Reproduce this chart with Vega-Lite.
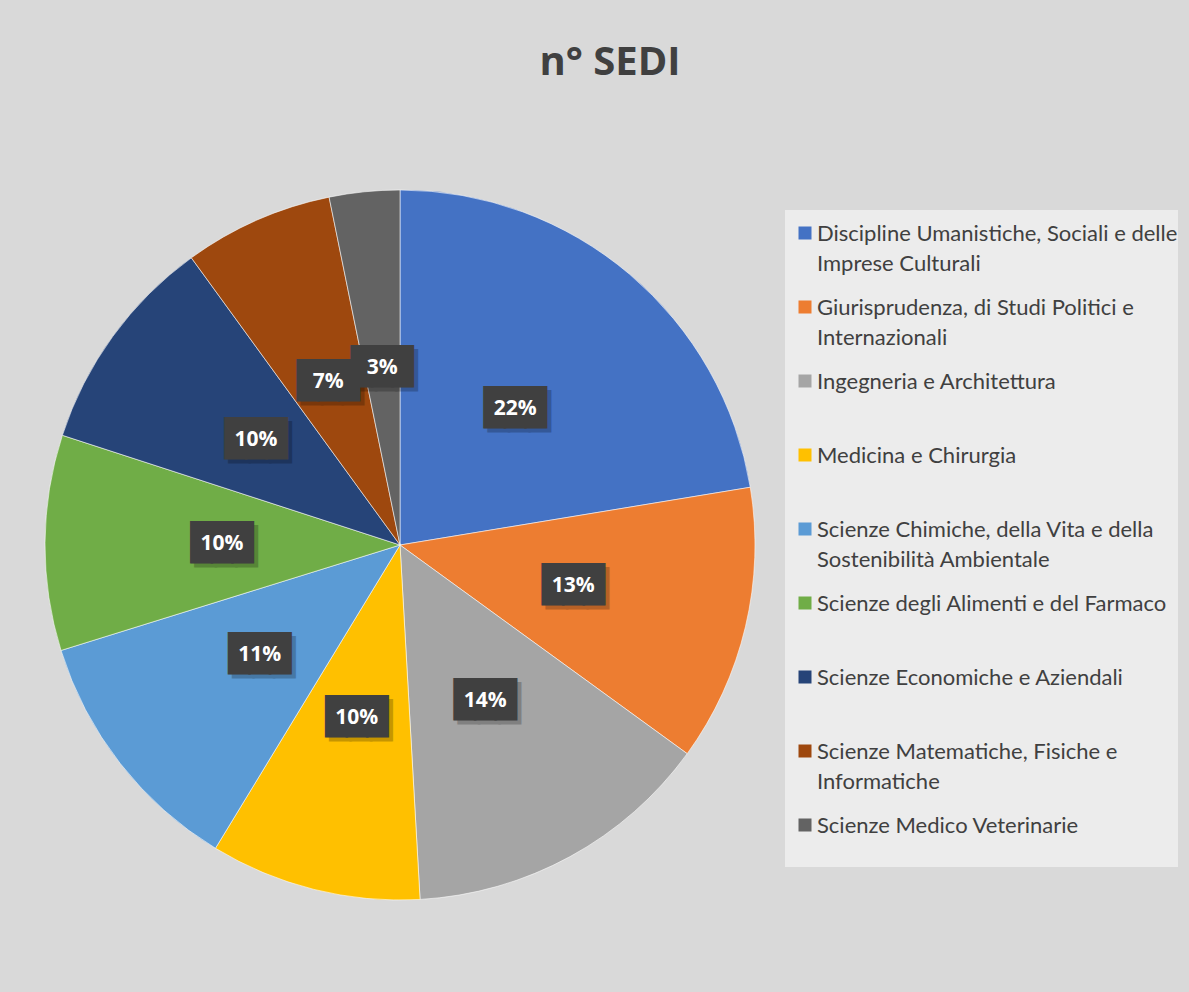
{
  "$schema": "https://vega.github.io/schema/vega-lite/v6.json",
  "width": 770,
  "height": 710,
  "autosize": {"type": "none"},
  "padding": {"left": 15, "top": 190, "right": 404, "bottom": 92},
  "background": "#d9d9d9",
  "title": {
    "text": "n° SEDI",
    "font": "Open Sans",
    "fontSize": 40,
    "fontWeight": "bold",
    "color": "#404040",
    "anchor": "middle",
    "baseline": "alphabetic",
    "dx": 210,
    "offset": 73
  },
  "data": {
    "values": [
      {"ordine": 1, "categoria": "Discipline Umanistiche, Sociali e delle Imprese Culturali", "valore": 22.4, "etichetta": "22%"},
      {"ordine": 2, "categoria": "Giurisprudenza, di Studi Politici e Internazionali", "valore": 12.6, "etichetta": "13%"},
      {"ordine": 3, "categoria": "Ingegneria e Architettura", "valore": 14.1, "etichetta": "14%"},
      {"ordine": 4, "categoria": "Medicina e Chirurgia", "valore": 9.6, "etichetta": "10%"},
      {"ordine": 5, "categoria": "Scienze Chimiche, della Vita e della Sostenibilità Ambientale", "valore": 11.5, "etichetta": "11%"},
      {"ordine": 6, "categoria": "Scienze degli Alimenti e del Farmaco", "valore": 9.8, "etichetta": "10%"},
      {"ordine": 7, "categoria": "Scienze Economiche e Aziendali", "valore": 10.0, "etichetta": "10%"},
      {"ordine": 8, "categoria": "Scienze Matematiche, Fisiche e Informatiche", "valore": 6.8, "etichetta": "7%"},
      {"ordine": 9, "categoria": "Scienze Medico Veterinarie", "valore": 3.2, "etichetta": "3%"}
    ]
  },
  "encoding": {
    "theta": {"field": "valore", "type": "quantitative", "stack": true},
    "order": {"field": "ordine", "type": "quantitative"}
  },
  "layer": [
    {
      "mark": {"type": "arc", "stroke": "#ffffff", "strokeWidth": 0.8, "strokeOpacity": 0.7},
      "encoding": {
        "color": {
          "field": "categoria",
          "type": "nominal",
          "sort": null,
          "scale": {
            "domain": [
              "Discipline Umanistiche, Sociali e delle Imprese Culturali",
              "Giurisprudenza, di Studi Politici e Internazionali",
              "Ingegneria e Architettura",
              "Medicina e Chirurgia",
              "Scienze Chimiche, della Vita e della Sostenibilità Ambientale",
              "Scienze degli Alimenti e del Farmaco",
              "Scienze Economiche e Aziendali",
              "Scienze Matematiche, Fisiche e Informatiche",
              "Scienze Medico Veterinarie"
            ],
            "range": ["#4472C4", "#ED7D31", "#A5A5A5", "#FFC000", "#5B9BD5", "#70AD47", "#264478", "#9E480E", "#636363"]
          },
          "legend": {
            "orient": "none",
            "legendX": 770,
            "legendY": 20,
            "title": null,
            "direction": "vertical",
            "symbolType": "square",
            "symbolSize": 169,
            "symbolStrokeWidth": 0,
            "symbolOffset": 9,
            "labelOffset": 1,
            "labelFont": "Lato",
            "labelFontSize": 22,
            "labelColor": "#404040",
            "labelLimit": 600,
            "labelBaseline": "alphabetic",
            "clipHeight": 46,
            "rowPadding": 9,
            "padding": 0,
            "fillColor": "#ececec",
            "labelExpr": "datum.label == 'Discipline Umanistiche, Sociali e delle Imprese Culturali' ? ['Discipline Umanistiche, Sociali e delle', 'Imprese Culturali'] : datum.label == 'Giurisprudenza, di Studi Politici e Internazionali' ? ['Giurisprudenza, di Studi Politici e', 'Internazionali'] : datum.label == 'Scienze Chimiche, della Vita e della Sostenibilità Ambientale' ? ['Scienze Chimiche, della Vita e della', 'Sostenibilità Ambientale'] : datum.label == 'Scienze Matematiche, Fisiche e Informatiche' ? ['Scienze Matematiche, Fisiche e', 'Informatiche'] : [datum.label, ' ']"
          }
        }
      }
    },
    {
      "mark": {"type": "text", "radius": 178, "font": "DejaVu Sans Mono", "fontSize": 34, "align": "center", "baseline": "middle", "dx": 4, "dy": 4, "fill": "#000000", "stroke": "#000000", "strokeWidth": 2, "opacity": 0.22},
      "encoding": {"text": {"value": "███"}}
    },
    {
      "mark": {"type": "text", "radius": 178, "font": "DejaVu Sans Mono", "fontSize": 34, "align": "center", "baseline": "middle", "fill": "#404040", "stroke": "#404040", "strokeWidth": 2},
      "encoding": {"text": {"value": "███"}}
    },
    {
      "mark": {"type": "text", "radius": 178, "font": "Open Sans", "fontSize": 21, "fontWeight": "bold", "align": "center", "baseline": "middle", "color": "#ffffff"},
      "encoding": {"text": {"field": "etichetta", "type": "nominal"}}
    }
  ],
  "config": {
    "view": {"stroke": null},
    "style": {"guide-label": {"lineHeight": 30, "dy": 8}}
  }
}
